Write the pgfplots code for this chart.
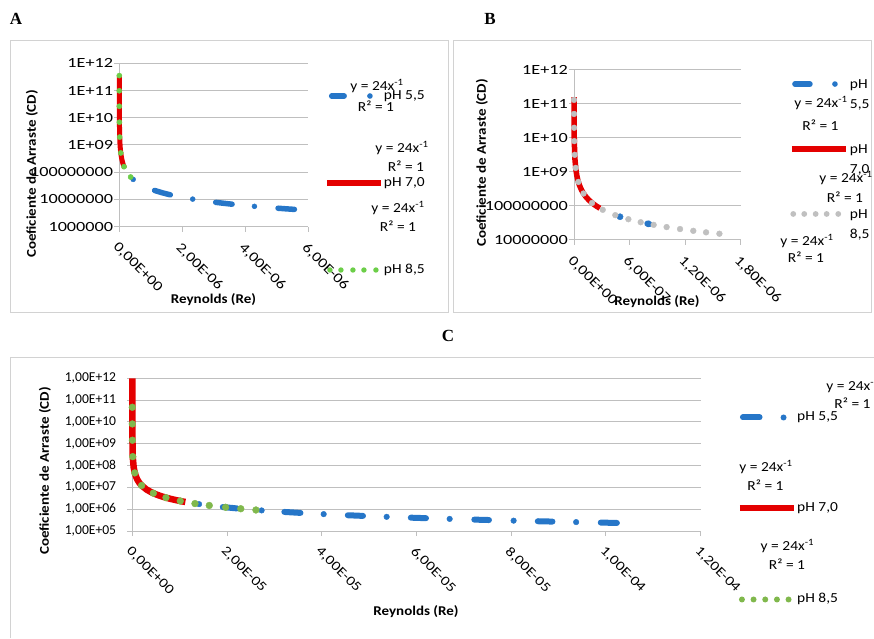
\documentclass[border=0pt]{standalone}
\usepackage{pgfplots}
\pgfplotsset{compat=1.18}
\usepackage{fontspec}
\setmainfont{Carlito}[FakeStretch=1.12]
\newfontfamily\tickfam{Carlito}[FakeStretch=1.2]
\newfontfamily\ytickfam{Carlito}[FakeStretch=1.3]
\newfontfamily\plainfam{Carlito}
\newfontfamily\letterfam{Liberation Serif}

\definecolor{plblue}{RGB}{38,118,200}
\definecolor{plred}{RGB}{228,0,0}
\definecolor{plgreenA}{RGB}{108,206,72}
\definecolor{plgreenC}{RGB}{128,184,76}
\definecolor{plgray}{RGB}{192,192,192}
\definecolor{axgray}{RGB}{191,191,191}
\definecolor{boxgray}{RGB}{210,210,210}

\newcommand\tickfont{\tickfam\fontsize{14}{16}\selectfont}
\newcommand\ytickfont{\ytickfam\fontsize{14}{16}\selectfont}
\newcommand\tickfontC{\plainfam\fontsize{13.6}{16}\selectfont}
\newcommand\tickfontCx{\tickfam\fontsize{13.5}{16}\selectfont}
\newcommand\lgfont{\fontsize{13.8}{16}\selectfont}
\newcommand\ttlfont{\fontsize{13.4}{16}\selectfont\bfseries}

\begin{document}
\begin{tikzpicture}[x=1pt,y=1pt]
\useasboundingbox (0,0) rectangle (874,638);

% panel frames
\draw[boxgray, line width=0.8pt] (10,598) rectangle (448,326);
\draw[boxgray, line width=0.8pt] (453.3,598) rectangle (871.7,325.3);
\draw[boxgray, line width=0.8pt] (10,0) -- (10,280.7) -- (874,280.7);

% ---------------- A ----------------
\begin{axis}[scale only axis, ymode=log, xmin=0,
  axis lines*=left,
  axis line style={draw=axgray, line width=1pt},
  ymajorgrids, yminorticks=false,
  grid style={draw=axgray, line width=1pt},
  tick style={draw=axgray, line width=1pt},
  tick align=outside, major tick length=5pt,
  scaled x ticks=false, clip=false,
  xticklabel style={rotate=-45, anchor=north west, inner sep=1pt, font=\tickfont},
  xticklabel shift=8pt,
  yticklabel style={anchor=east, inner sep=1pt, font=\ytickfont},
  legend cell align=left,
  legend style={draw=none, fill=none, inner sep=0pt, row sep=74pt,
    nodes={inner sep=0pt, font=\lgfont, text height=10pt, text depth=3pt},
    at={(1.083,0.2674)}, anchor=west},
  at={(119.3pt,411.3pt)}, anchor=south west,
  width=189pt, height=163.4pt, xmax=6e-6, ymin=1e6, ymax=1e12,
  xtick={0,2e-6,4e-6,6e-6},
  xticklabels={{0,00E+00},{2,00E-06},{4,00E-06},{6,00E-06}},
  ytick={1e6,1e7,1e8,1e9,1e10,1e11,1e12},
  yticklabels={1000000,10000000,100000000,1E+09,1E+10,1E+11,1E+12}]
\addplot[plblue, line width=5.5pt, line cap=round, unbounded coords=jump,
  legend image code/.code={
    \path[draw=none, fill=none] (0pt,-3pt) rectangle (57pt,3pt);
    \draw[plblue, line width=5.5pt, line cap=round] (4.75pt,0pt) -- (17.25pt,0pt);
    \fill[plblue, draw=none] (43pt,0pt) circle (2.8pt);}]
  coordinates {
  (1.12e-6,2.143e7) (1.37e-6,1.752e7) (1.62e-6,1.481e7)
  (2e-6,nan)
  (3.06e-6,7.843e6) (3.32e-6,7.229e6) (3.58e-6,6.704e6)
  (4e-6,nan)
  (5.04e-6,4.762e6) (5.30e-6,4.528e6) (5.56e-6,4.317e6)
  };
\addlegendentry{pH 5,5}
\addplot[forget plot, only marks, mark=*, mark size=2.5pt, plblue]
  coordinates {(0.44e-6,5.455e7) (2.33e-6,1.030e7) (4.29e-6,5.594e6)};
\addplot[plred, line width=5pt, line cap=butt, line join=round,
  legend image code/.code={
    \path[draw=none, fill=none] (0pt,-3pt) rectangle (57pt,3pt);
    \draw[plred, line width=5.5pt, line cap=butt] (0pt,0pt) -- (54pt,0pt);}]
  coordinates {
  (7.3e-11,3.288e11) (2e-10,1.2e11) (5e-10,4.8e10) (1e-9,2.4e10) (3e-9,8e9)
  (1e-8,2.4e9) (2e-8,1.2e9) (3e-8,8e8) (4e-8,6e8) (5e-8,4.8e8) (6e-8,4e8)
  (8e-8,3e8) (1e-7,2.4e8) (1.2e-7,2e8) (1.45e-7,1.655e8) (1.7e-7,1.412e8)
  };
\addlegendentry{pH 7,0}
\addplot[only marks, mark=*, mark size=2.6pt, plgreenA,
  legend image code/.code={
    \path[draw=none, fill=none] (0pt,-3pt) rectangle (57pt,3pt);
    \foreach \xx in {3,14,26,37,49} \fill[plgreenA, draw=none] (\xx pt,0pt) circle (2.7pt);}]
  coordinates {
  (6.8e-11,3.53e11) (2.45e-10,9.8e10) (9.1e-10,2.64e10) (3.5e-9,6.86e9)
  (1.23e-8,1.95e9) (4.7e-8,5.11e8) (1.5e-7,1.6e8) (3.6e-7,6.67e7)
  };
\addlegendentry{pH 8,5}
\end{axis}

% ---------------- B ----------------
\begin{axis}[scale only axis, ymode=log, xmin=0,
  axis lines*=left,
  axis line style={draw=axgray, line width=1pt},
  ymajorgrids, yminorticks=false,
  grid style={draw=axgray, line width=1pt},
  tick style={draw=axgray, line width=1pt},
  tick align=outside, major tick length=5pt,
  scaled x ticks=false, clip=false,
  xticklabel style={rotate=-45, anchor=north west, inner sep=1pt, font=\tickfont},
  xticklabel shift=8pt,
  yticklabel style={anchor=east, inner sep=1pt, font=\ytickfont},
  legend cell align=left,
  legend style={draw=none, fill=none, inner sep=0pt, row sep=34.6pt,
    nodes={inner sep=0pt, font=\lgfont, align=left},
    at={(1.2897,0.4735)}, anchor=west},
  at={(574pt,398pt)}, anchor=south west,
  width=166.7pt, height=170pt, xmax=1.8e-6, ymin=1e7, ymax=1e12,
  xtick={0,6e-7,1.2e-6,1.8e-6},
  xticklabels={{0,00E+00},{6,00E-07},{1,20E-06},{1,80E-06}},
  ytick={1e7,1e8,1e9,1e10,1e11,1e12},
  yticklabels={10000000,100000000,1E+09,1E+10,1E+11,1E+12}]
\addplot[plblue, line width=6.5pt, line cap=round,
  legend image code/.code={
    \path[draw=none, fill=none] (0pt,7pt) rectangle (58pt,14pt);
    \draw[plblue, line width=5.5pt, line cap=round] (3pt,10.5pt) -- (18pt,10.5pt);
    \fill[plblue, draw=none] (43pt,10.5pt) circle (2.8pt);}]
  coordinates {(7.95e-7,3.019e7) (8.1e-7,2.963e7)};
\addlegendentry{pH\\[4pt]5,5}
\addplot[forget plot, only marks, mark=*, mark size=3.1pt, plblue]
  coordinates {(4.97e-7,4.829e7)};
\addplot[plred, line width=5.5pt, line cap=butt, line join=round,
  legend image code/.code={
    \path[draw=none, fill=none] (0pt,7pt) rectangle (58pt,14pt);
    \draw[plred, line width=5.5pt, line cap=butt] (0pt,10.5pt) -- (54pt,10.5pt);}]
  coordinates {
  (1.5e-10,1.6e11) (5e-10,4.8e10) (1e-9,2.4e10) (3e-9,8e9) (1e-8,2.4e9)
  (2e-8,1.2e9) (3e-8,8e8) (4e-8,6e8) (5e-8,4.8e8) (6e-8,4e8) (8e-8,3e8)
  (1e-7,2.4e8) (1.3e-7,1.846e8) (1.6e-7,1.5e8) (2e-7,1.2e8) (2.4e-7,1e8)
  (2.8e-7,8.571e7)
  };
\addlegendentry{pH\\[4pt]7,0}
\addplot[only marks, mark=*, mark size=2.9pt, plgray,
  legend image code/.code={
    \path[draw=none, fill=none] (0pt,7pt) rectangle (58pt,14pt);
    \foreach \xx in {1.3,12.3,23.7,34.7,46.3} \fill[plgray, draw=none] (\xx pt,10.5pt) circle (2.9pt);}]
  coordinates {
  (1.8e-10,1.32e11) (4.7e-10,5.1e10) (1.2e-9,2.0e10) (3.0e-9,8.1e9)
  (7.4e-9,3.2e9) (1.8e-8,1.32e9) (4.7e-8,5.1e8) (1.03e-7,2.33e8)
  (1.95e-7,1.23e8) (3.1e-7,7.74e7) (4.46e-7,5.38e7) (5.87e-7,4.09e7)
  (7.2e-7,3.33e7) (8.6e-7,2.79e7) (1.0e-6,2.4e7) (1.145e-6,2.10e7)
  (1.288e-6,1.86e7) (1.426e-6,1.68e7) (1.57e-6,1.53e7)
  };
\addlegendentry{pH\\[4pt]8,5}
\end{axis}

% ---------------- C ----------------
\begin{axis}[scale only axis, ymode=log, xmin=0,
  axis lines*=left,
  axis line style={draw=axgray, line width=1pt},
  ymajorgrids, yminorticks=false,
  grid style={draw=axgray, line width=1pt},
  tick style={draw=axgray, line width=1pt},
  tick align=outside, major tick length=5pt,
  scaled x ticks=false, clip=false,
  xticklabel style={rotate=-45, anchor=north west, inner sep=1pt, font=\tickfontCx},
  xticklabel shift=8pt,
  yticklabel style={anchor=east, inner sep=1pt, font=\tickfontC, xshift=-10pt},
  legend cell align=left,
  legend style={draw=none, fill=none, inner sep=0pt, row sep=78pt,
    nodes={inner sep=0pt, font=\lgfont, text height=10pt, text depth=3pt},
    at={(1.0634,0.1474)}, anchor=west},
  at={(132.3pt,107pt)}, anchor=south west,
  width=568.4pt, height=152.7pt, xmax=1.2e-4, ymin=1e5, ymax=1e12,
  xtick={0,2e-5,4e-5,6e-5,8e-5,1e-4,1.2e-4},
  xticklabels={{0,00E+00},{2,00E-05},{4,00E-05},{6,00E-05},{8,00E-05},{1,00E-04},{1,20E-04}},
  ytick={1e5,1e6,1e7,1e8,1e9,1e10,1e11,1e12},
  yticklabels={{1,00E+05},{1,00E+06},{1,00E+07},{1,00E+08},{1,00E+09},{1,00E+10},{1,00E+11},{1,00E+12}}]
\addplot[plblue, line width=6pt, line cap=round, unbounded coords=jump,
  legend image code/.code={
    \path[draw=none, fill=none] (0pt,-3pt) rectangle (57.3pt,3pt);
    \draw[plblue, line width=6pt, line cap=round] (3pt,0pt) -- (19.6pt,0pt);
    \fill[plblue, draw=none] (43.6pt,0pt) circle (3pt);}]
  coordinates {
  (1.91e-5,1.2565e6) (2.06e-5,1.165e6) (2.21e-5,1.086e6)
  (2.5e-5,nan)
  (3.21e-5,7.477e5) (3.55e-5,6.761e5)
  (4e-5,nan)
  (4.55e-5,5.275e5) (4.87e-5,4.928e5)
  (5.2e-5,nan)
  (5.88e-5,4.082e5) (6.20e-5,3.871e5)
  (6.5e-5,nan)
  (7.22e-5,3.324e5) (7.53e-5,3.187e5)
  (8e-5,nan)
  (8.56e-5,2.804e5) (8.87e-5,2.706e5)
  (9.2e-5,nan)
  (9.89e-5,2.427e5) (1.023e-4,2.346e5)
  };
\addlegendentry{pH 5,5}
\addplot[forget plot, only marks, mark=*, mark size=2.8pt, plblue]
  coordinates {(1.41e-5,1.702e6) (2.73e-5,8.791e5) (4.04e-5,5.941e5)
  (5.37e-5,4.469e5) (6.70e-5,3.582e5) (8.05e-5,2.981e5) (9.37e-5,2.561e5)};
\addplot[plred, line width=6.5pt, line cap=butt, line join=round,
  legend image code/.code={
    \path[draw=none, fill=none] (0pt,-3pt) rectangle (57.3pt,3pt);
    \draw[plred, line width=6pt, line cap=butt] (0pt,0pt) -- (54.3pt,0pt);}]
  coordinates {
  (2.4e-11,1e12) (1e-10,2.4e11) (1e-9,2.4e10) (1e-8,2.4e9) (1e-7,2.4e8)
  (3e-7,8e7) (6e-7,4e7) (1e-6,2.4e7) (1.5e-6,1.6e7) (2e-6,1.2e7) (3e-6,8e6)
  (4e-6,6e6) (5e-6,4.8e6) (6e-6,4e6) (7e-6,3.429e6) (8e-6,3e6)
  (9e-6,2.667e6) (1e-5,2.4e6) (1.12e-5,2.143e6)
  };
\addlegendentry{pH 7,0}
\addplot[only marks, mark=*, mark size=3.4pt, plgreenC,
  legend image code/.code={
    \path[draw=none, fill=none] (0pt,-3pt) rectangle (57.3pt,3pt);
    \foreach \xx in {2,13.6,25.3,37,48.6} \fill[plgreenC, draw=none] (\xx pt,0pt) circle (3pt);}]
  coordinates {
  (5.1e-10,4.7e10) (2.96e-9,8.1e9) (1.66e-8,1.45e9) (9.3e-8,2.57e8)
  (5.2e-7,4.6e7) (1.97e-6,1.22e7) (4.44e-6,5.41e6) (7.11e-6,3.38e6)
  (1.013e-5,2.37e6) (1.323e-5,1.81e6) (1.625e-5,1.48e6) (1.97e-5,1.22e6)
  (2.29e-5,1.05e6) (2.61e-5,9.2e5)
  };
\addlegendentry{pH 8,5}
\end{axis}

% titles and letters
\node[font=\letterfam\bfseries\fontsize{17}{20}\selectfont] at (16,619) {A};
\node[font=\letterfam\bfseries\fontsize{17}{20}\selectfont] at (490,619) {B};
\node[font=\letterfam\bfseries\fontsize{17}{20}\selectfont] at (448,302) {C};

\node[font=\ttlfont, rotate=90] at (32,464) {Coeficiente de Arraste (CD)};
\node[font=\ttlfont, rotate=90] at (482,475) {Coeficiente de Arraste (CD)};
\node[font=\ttlfont, rotate=90] at (45,167) {Coeficiente de Arraste (CD)};
\node[font=\ttlfont] at (213.5,338) {Reynolds (Re)};
\node[font=\ttlfont] at (657,336) {Reynolds (Re)};
\node[font=\ttlfont] at (416,26.3) {Reynolds (Re)};

% trendline equations
\begin{scope}[every node/.style={font=\lgfont, inner sep=0pt}]
\node at (377,552) {y = 24x\textsuperscript{-1}};
\node at (376,532) {R² = 1};
\node at (402,490) {y = 24x\textsuperscript{-1}};
\node at (406,472) {R² = 1};
\node at (398,430) {y = 24x\textsuperscript{-1}};
\node at (398,412) {R² = 1};
\node at (821,535) {y = 24x\textsuperscript{-1}};
\node at (820.5,513) {R² = 1};
\node at (846,460) {y = 24x\textsuperscript{-1}};
\node at (845,441) {R² = 1};
\node at (807,397) {y = 24x\textsuperscript{-1}};
\node at (806,381) {R² = 1};
\node at (853,252) {y = 24x\textsuperscript{-1}};
\node at (852.5,234.7) {R² = 1};
\node at (766,170.7) {y = 24x\textsuperscript{-1}};
\node at (765.5,153) {R² = 1};
\node at (787.4,92.3) {y = 24x\textsuperscript{-1}};
\node at (787,74) {R² = 1};
\end{scope}
\end{tikzpicture}
\end{document}
